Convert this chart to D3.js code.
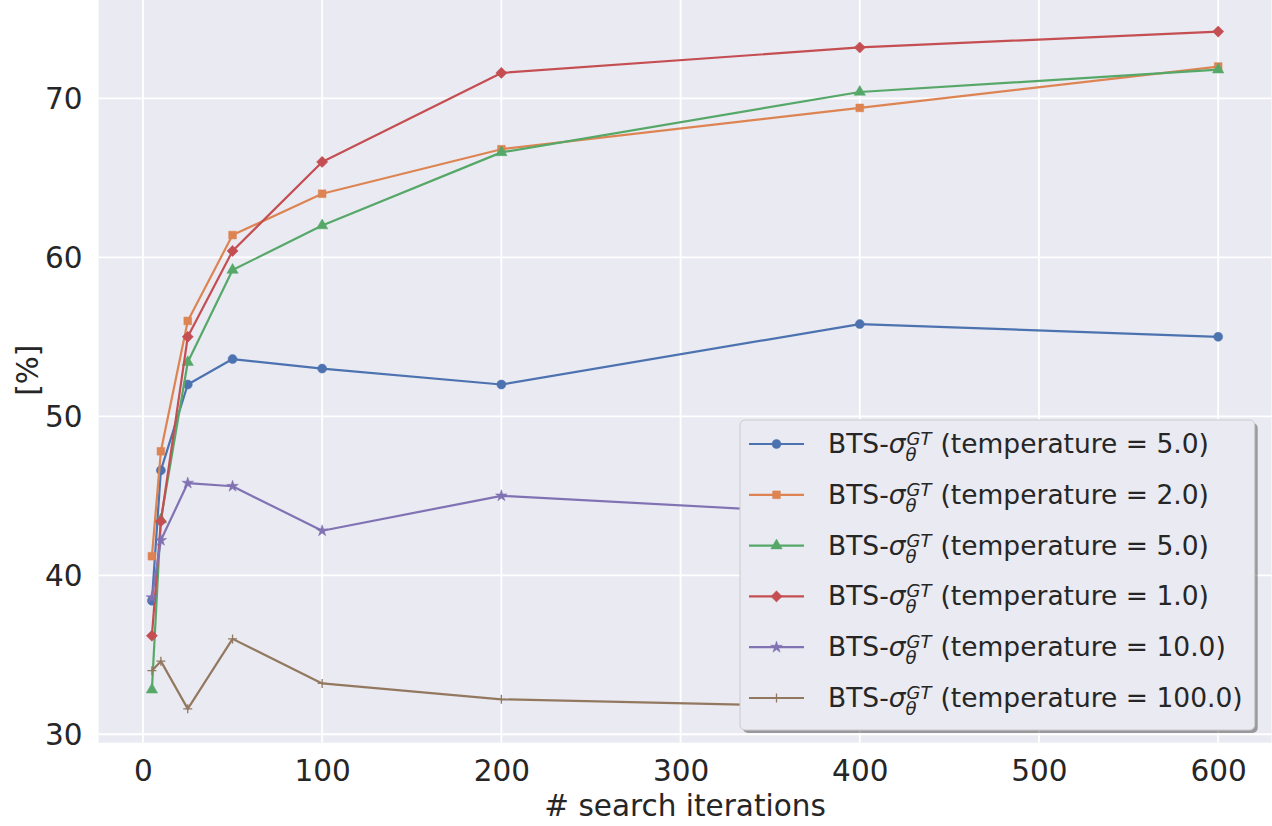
<!DOCTYPE html>
<html>
<head>
<meta charset="utf-8">
<script src="https://cdn.jsdelivr.net/npm/d3@7"></script>
<style>
  html, body { margin: 0; padding: 0; background: #ffffff; }
  svg { display: block; font-family: "DejaVu Sans", sans-serif; }
</style>
</head>
<body>
<svg id="chart" width="1272" height="826"></svg>
<script>
// Search budget (x) and success rate in percent (y) for each temperature setting
const iterations = [5, 10, 25, 50, 100, 200, 400, 600];
const temperatures = ["5.0", "2.0", "5.0", "1.0", "10.0", "100.0"];
const seriesA = [38.4, 46.6, 52.0, 53.6, 53.0, 52.0, 55.8, 55.0];
const seriesB = [41.2, 47.8, 56.0, 61.4, 64.0, 66.8, 69.4, 72.0];
const seriesC = [32.8, 43.5, 53.4, 59.2, 62.0, 66.6, 70.4, 71.8];
const seriesD = [36.2, 43.4, 55.0, 60.4, 66.0, 71.6, 73.2, 74.2];
const seriesE = [38.6, 42.2, 45.8, 45.6, 42.8, 45.0, 43.8, 44.2];
const seriesF = [34.0, 34.6, 31.6, 36.0, 33.2, 32.2, 31.7, 32.0];
const xTicks = [0, 100, 200, 300, 400, 500, 600];
const yTicks = [30, 40, 50, 60, 70];

const colors = ["#4c72b0", "#dd8452", "#55a868", "#c44e52", "#8172b3", "#937860"];
const markers = ["circle", "square", "triangle", "diamond", "star", "plus"];
const allSeries = [seriesA, seriesB, seriesC, seriesD, seriesE, seriesF];

const svg = d3.select("#chart");

const x = d3.scaleLinear().domain([-24.75, 629.75]).range([98.6, 1271.5]);
const y = d3.scaleLinear().domain([29.47, 76.33]).range([742.7, -2.3]);

// plot background
svg.append("rect")
  .attr("x", x.range()[0]).attr("y", y.range()[1])
  .attr("width", x.range()[1] - x.range()[0])
  .attr("height", y.range()[0] - y.range()[1])
  .attr("fill", "#eaeaf2");

// grid
const grid = svg.append("g");
grid.selectAll(".gx").data(xTicks).join("line")
  .attr("x1", d => x(d)).attr("x2", d => x(d))
  .attr("y1", y.range()[1]).attr("y2", y.range()[0])
  .attr("stroke", "#ffffff").attr("stroke-width", 1.8);
grid.selectAll(".gy").data(yTicks).join("line")
  .attr("y1", d => y(d)).attr("y2", d => y(d))
  .attr("x1", x.range()[0]).attr("x2", x.range()[1])
  .attr("stroke", "#ffffff").attr("stroke-width", 1.8);

// axes (labels only, no spines or tick marks)
const tickFont = 29.5;
const xAxis = svg.append("g")
  .attr("transform", `translate(0,${y.range()[0]})`)
  .call(d3.axisBottom(x).tickValues(xTicks).tickSize(0).tickPadding(38).tickFormat(d3.format("d")));
const yAxis = svg.append("g")
  .attr("transform", `translate(${x.range()[0]},0)`)
  .call(d3.axisLeft(y).tickValues(yTicks).tickSize(0).tickPadding(16).tickFormat(d3.format("d")));
[xAxis, yAxis].forEach(a => {
  a.select(".domain").remove();
  a.selectAll("text")
    .attr("fill", "#262626")
    .style("font-family", "DejaVu Sans")
    .style("font-size", tickFont + "px");
});
xAxis.selectAll("text").attr("dy", 0);
yAxis.selectAll("text").attr("dy", "0.36em");

// axis titles
svg.append("text")
  .attr("x", (x.range()[0] + x.range()[1]) / 2).attr("y", 816)
  .attr("text-anchor", "middle").attr("fill", "#262626")
  .style("font-size", tickFont + "px")
  .text("# search iterations");
svg.append("text")
  .attr("transform", `translate(38,${(y.range()[0] + y.range()[1]) / 2}) rotate(-90)`)
  .attr("text-anchor", "middle").attr("fill", "#262626")
  .style("font-size", tickFont + "px")
  .text("[%]");

// marker shapes
function markerPath(kind) {
  switch (kind) {
    case "circle": return d3.symbol(d3.symbolCircle, 64)();
    case "square": return d3.symbol(d3.symbolSquare, 60)();
    case "triangle": return d3.symbol(d3.symbolTriangle, 56)();
    case "diamond": return d3.symbol(d3.symbolSquare, 62)();
    case "star": return d3.symbol(d3.symbolStar, 42)();
    case "plus": return "M-4.5,0H4.5M0,-4.5V4.5";
  }
}
function drawMarker(sel, kind, color) {
  const p = sel.append("path").attr("d", markerPath(kind));
  if (kind === "plus") {
    p.attr("fill", "none").attr("stroke", color).attr("stroke-width", 1.3);
  } else {
    p.attr("fill", color).attr("stroke", color).attr("stroke-width", 0.5);
  }
  if (kind === "diamond") p.attr("transform", "rotate(45)");
  return p;
}

const line = d3.line().x((d, i) => x(iterations[i])).y(d => y(d));

allSeries.forEach((vals, s) => {
  const g = svg.append("g");
  g.append("path").datum(vals)
    .attr("d", line)
    .attr("fill", "none")
    .attr("stroke", colors[s])
    .attr("stroke-width", 2.2)
    .attr("stroke-linejoin", "round");
  vals.forEach((v, i) => {
    const mg = g.append("g").attr("transform", `translate(${x(iterations[i])},${y(v)})`);
    drawMarker(mg, markers[s], colors[s]);
  });
});

// legend
const legendFont = 26.5;
const scriptFont = 18;
const leg = svg.append("g");
const legLeft = 740, legTop = 420, rowGap = 50.8, firstRow = 444, textX = 828;
const shadow = leg.append("rect");
const box = leg.append("rect");
const rowsEnd = [];
temperatures.forEach((t, s) => {
  const cy = firstRow + s * rowGap;
  const base = cy + 9;
  leg.append("line")
    .attr("x1", 749).attr("x2", 804).attr("y1", cy).attr("y2", cy)
    .attr("stroke", colors[s]).attr("stroke-width", 2.2);
  const mg = leg.append("g").attr("transform", `translate(776.5,${cy})`);
  drawMarker(mg, markers[s], colors[s]);

  // one text per row: "BTS-σ" with stacked super/subscripts, then the setting
  const txt = leg.append("text").attr("x", textX).attr("y", base)
    .attr("fill", "#262626").style("font-size", legendFont + "px");
  const a = txt.append("tspan").text("BTS-");
  const sig = txt.append("tspan").style("font-style", "italic").text("σ");
  const sup = txt.append("tspan").style("font-style", "italic")
    .style("font-size", scriptFont + "px").attr("dy", -8).text("GT");
  const sub = txt.append("tspan").style("font-style", "italic")
    .style("font-size", scriptFont + "px").attr("dy", 16).text("θ");
  const rest = txt.append("tspan").attr("dy", -8).text("(temperature = " + t + ")");
  const wA = a.node().getComputedTextLength() + sig.node().getComputedTextLength();
  const sx = textX + wA + 1;
  sup.attr("x", sx);
  sub.attr("x", sx - 1);
  const wS = Math.max(sup.node().getComputedTextLength(), sub.node().getComputedTextLength());
  const rx = sx + wS + 9;
  rest.attr("x", rx);
  rowsEnd.push(rx + rest.node().getComputedTextLength());
});
const legRight = d3.max(rowsEnd) + 12;
const legBottom = 730;
shadow.attr("x", legLeft + 3).attr("y", legTop + 3)
  .attr("width", legRight - legLeft).attr("height", legBottom - legTop)
  .attr("rx", 5).attr("fill", "#000").attr("opacity", 0.35);
box.attr("x", legLeft).attr("y", legTop)
  .attr("width", legRight - legLeft).attr("height", legBottom - legTop)
  .attr("rx", 5).attr("fill", "#eaeaf2").attr("stroke", "#cccccc").attr("stroke-width", 1);
</script>
</body>
</html>
